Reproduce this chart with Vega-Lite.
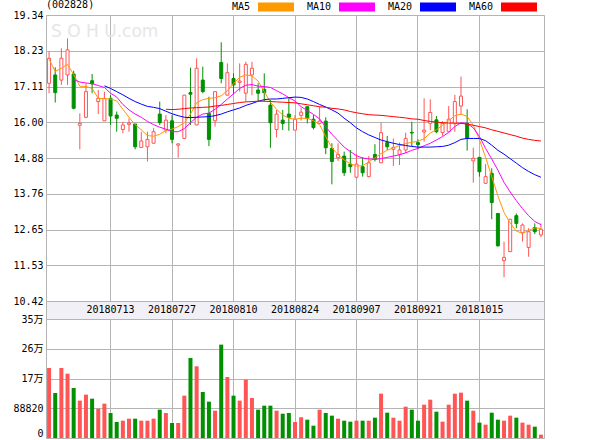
{
  "$schema": "https://vega.github.io/schema/vega-lite/v6.json",
  "background": "white",
  "padding": {"left": 12, "top": -3, "right": 0, "bottom": 0},
  "spacing": 0,
  "bounds": "flush",
  "resolve": {"scale": {"x": "shared"}},
  "datasets": {
    "k": [
      {"d":"20180629","o":17.21,"h":18.20,"l":16.90,"c":17.99,"v":209000,"MA5":17.96},
      {"d":"20180702","o":17.47,"h":17.71,"l":16.61,"c":16.92,"v":134300,"MA5":17.58},
      {"d":"20180703","o":17.31,"h":18.30,"l":17.16,"c":17.99,"v":209000,"MA5":17.68},
      {"d":"20180704","o":17.47,"h":18.61,"l":17.16,"c":18.25,"v":192000,"MA5":17.80},
      {"d":"20180705","o":17.50,"h":17.60,"l":16.40,"c":16.43,"v":149300,"MA5":17.48,"MA10":17.33},
      {"d":"20180706","o":15.90,"h":16.27,"l":15.15,"c":15.96,"v":111500,"MA5":17.12,"MA10":17.25},
      {"d":"20180709","o":16.15,"h":17.21,"l":16.12,"c":16.95,"v":129400,"MA5":17.11,"MA10":17.22},
      {"d":"20180710","o":17.29,"h":17.50,"l":16.90,"c":17.19,"v":117400,"MA5":17.05,"MA10":17.20},
      {"d":"20180711","o":16.64,"h":17.00,"l":16.25,"c":16.74,"v":87600,"MA5":16.74,"MA10":17.14},
      {"d":"20180712","o":16.04,"h":16.95,"l":16.04,"c":16.74,"v":102500,"MA5":16.73,"MA10":17.08,"MA20":17.13},
      {"d":"20180713","o":16.74,"h":16.84,"l":15.91,"c":16.19,"v":74600,"MA5":16.72,"MA10":16.90,"MA20":17.05},
      {"d":"20180716","o":16.22,"h":16.33,"l":15.70,"c":16.12,"v":47800,"MA5":16.66,"MA10":16.78,"MA20":16.95},
      {"d":"20180717","o":15.77,"h":16.01,"l":15.65,"c":15.91,"v":51700,"MA5":16.40,"MA10":16.55,"MA20":16.85},
      {"d":"20180718","o":15.93,"h":16.12,"l":15.70,"c":15.97,"v":57700,"MA5":16.15,"MA10":16.38,"MA20":16.74},
      {"d":"20180719","o":15.94,"h":15.94,"l":15.15,"c":15.23,"v":57700,"MA5":15.92,"MA10":16.25,"MA20":16.64},
      {"d":"20180720","o":15.21,"h":15.70,"l":15.21,"c":15.41,"v":51700,"MA5":15.76,"MA10":16.15,"MA20":16.56},
      {"d":"20180723","o":15.23,"h":15.70,"l":14.77,"c":15.46,"v":51700,"MA5":15.58,"MA10":16.02,"MA20":16.49},
      {"d":"20180724","o":15.34,"h":15.81,"l":15.34,"c":15.70,"v":57700,"MA5":15.56,"MA10":15.92,"MA20":16.46},
      {"d":"20180725","o":16.25,"h":16.64,"l":15.91,"c":15.98,"v":84600,"MA5":15.62,"MA10":15.84,"MA20":16.42},
      {"d":"20180726","o":15.75,"h":16.22,"l":15.65,"c":16.06,"v":74600,"MA5":15.74,"MA10":15.78,"MA20":16.34,"MA60":16.40},
      {"d":"20180727","o":16.04,"h":16.22,"l":15.34,"c":15.46,"v":44800,"MA5":15.78,"MA10":15.70,"MA20":16.26,"MA60":16.39},
      {"d":"20180730","o":15.28,"h":15.33,"l":14.89,"c":15.32,"v":44800,"MA5":15.86,"MA10":15.70,"MA20":16.20,"MA60":16.40},
      {"d":"20180731","o":15.49,"h":16.84,"l":15.49,"c":16.84,"v":126400,"MA5":15.98,"MA10":15.80,"MA20":16.15,"MA60":16.42},
      {"d":"20180801","o":16.92,"h":17.70,"l":15.91,"c":16.87,"v":238800,"MA5":16.25,"MA10":15.98,"MA20":16.14,"MA60":16.44},
      {"d":"20180802","o":15.91,"h":17.99,"l":15.91,"c":17.68,"v":214000,"MA5":16.60,"MA10":16.15,"MA20":16.15,"MA60":16.45},
      {"d":"20180803","o":17.31,"h":17.73,"l":16.90,"c":16.95,"v":137300,"MA5":16.70,"MA10":16.25,"MA20":16.16,"MA60":16.46},
      {"d":"20180806","o":16.27,"h":16.79,"l":15.25,"c":15.46,"v":108500,"MA5":16.74,"MA10":16.28,"MA20":16.17,"MA60":16.47},
      {"d":"20180807","o":16.04,"h":16.95,"l":15.86,"c":16.95,"v":81600,"MA5":16.76,"MA10":16.40,"MA20":16.20,"MA60":16.50},
      {"d":"20180808","o":17.86,"h":18.49,"l":17.21,"c":17.36,"v":278700,"MA5":16.82,"MA10":16.55,"MA20":16.25,"MA60":16.52},
      {"d":"20180809","o":16.84,"h":17.83,"l":16.84,"c":17.54,"v":182100,"MA5":16.98,"MA10":16.72,"MA20":16.32,"MA60":16.55},
      {"d":"20180810","o":17.36,"h":17.52,"l":16.87,"c":17.16,"v":126400,"MA5":17.20,"MA10":16.88,"MA20":16.38,"MA60":16.58},
      {"d":"20180813","o":17.24,"h":17.83,"l":16.95,"c":17.28,"v":111500,"MA5":17.40,"MA10":17.05,"MA20":16.44,"MA60":16.61},
      {"d":"20180814","o":16.90,"h":17.88,"l":16.64,"c":17.80,"v":174200,"MA5":17.47,"MA10":17.15,"MA20":16.52,"MA60":16.63},
      {"d":"20180815","o":17.47,"h":17.88,"l":16.84,"c":17.68,"v":119400,"MA5":17.44,"MA10":17.17,"MA20":16.58,"MA60":16.64},
      {"d":"20180816","o":17.00,"h":17.21,"l":16.64,"c":16.90,"v":84600,"MA5":17.28,"MA10":17.12,"MA20":16.65,"MA60":16.65},
      {"d":"20180817","o":17.02,"h":17.52,"l":16.64,"c":16.92,"v":96500,"MA5":16.95,"MA10":17.11,"MA20":16.70,"MA60":16.65},
      {"d":"20180820","o":16.53,"h":16.69,"l":15.20,"c":15.98,"v":96500,"MA5":16.62,"MA10":17.08,"MA20":16.72,"MA60":16.64},
      {"d":"20180821","o":15.77,"h":16.38,"l":15.52,"c":16.25,"v":81600,"MA5":16.40,"MA10":16.98,"MA20":16.72,"MA60":16.63},
      {"d":"20180822","o":16.06,"h":16.38,"l":15.75,"c":15.96,"v":72600,"MA5":16.22,"MA10":16.88,"MA20":16.74,"MA60":16.62},
      {"d":"20180823","o":16.25,"h":16.74,"l":15.73,"c":16.15,"v":74600,"MA5":16.12,"MA10":16.76,"MA20":16.76,"MA60":16.61},
      {"d":"20180824","o":15.75,"h":16.22,"l":15.75,"c":16.09,"v":47800,"MA5":16.09,"MA10":16.66,"MA20":16.78,"MA60":16.60},
      {"d":"20180827","o":16.21,"h":16.45,"l":16.05,"c":16.31,"v":61700,"MA5":16.12,"MA10":16.48,"MA20":16.77,"MA60":16.57},
      {"d":"20180828","o":16.48,"h":16.48,"l":15.96,"c":16.12,"v":54700,"MA5":16.12,"MA10":16.36,"MA20":16.72,"MA60":16.54},
      {"d":"20180829","o":16.09,"h":16.22,"l":15.77,"c":15.83,"v":36800,"MA5":16.04,"MA10":16.24,"MA20":16.64,"MA60":16.51},
      {"d":"20180830","o":15.96,"h":16.48,"l":15.96,"c":16.03,"v":84600,"MA5":15.92,"MA10":16.10,"MA20":16.55,"MA60":16.48},
      {"d":"20180831","o":16.03,"h":16.15,"l":15.00,"c":15.20,"v":74600,"MA5":15.55,"MA10":15.85,"MA20":16.47,"MA60":16.46},
      {"d":"20180903","o":15.18,"h":15.34,"l":14.06,"c":14.77,"v":66700,"MA5":15.20,"MA10":15.62,"MA20":16.38,"MA60":16.43},
      {"d":"20180904","o":14.89,"h":15.34,"l":14.79,"c":14.99,"v":57700,"MA5":14.98,"MA10":15.42,"MA20":16.28,"MA60":16.41},
      {"d":"20180905","o":14.94,"h":15.08,"l":14.32,"c":14.42,"v":51700,"MA5":14.82,"MA10":15.22,"MA20":16.12,"MA60":16.38},
      {"d":"20180906","o":14.69,"h":15.13,"l":14.42,"c":14.61,"v":48800,"MA5":14.70,"MA10":15.08,"MA20":15.98,"MA60":16.33},
      {"d":"20180907","o":14.28,"h":15.00,"l":14.25,"c":14.69,"v":51700,"MA5":14.63,"MA10":14.95,"MA20":15.82,"MA60":16.29},
      {"d":"20180910","o":14.61,"h":14.90,"l":14.30,"c":14.42,"v":51700,"MA5":14.64,"MA10":14.88,"MA20":15.70,"MA60":16.26},
      {"d":"20180911","o":14.30,"h":14.94,"l":14.28,"c":14.73,"v":51700,"MA5":14.76,"MA10":14.85,"MA20":15.60,"MA60":16.23},
      {"d":"20180912","o":14.99,"h":15.31,"l":14.77,"c":14.84,"v":60700,"MA5":14.88,"MA10":14.84,"MA20":15.52,"MA60":16.22},
      {"d":"20180913","o":14.73,"h":15.98,"l":14.73,"c":15.67,"v":132400,"MA5":15.02,"MA10":14.86,"MA20":15.44,"MA60":16.21},
      {"d":"20180914","o":15.36,"h":15.57,"l":15.13,"c":15.23,"v":75600,"MA5":15.12,"MA10":14.90,"MA20":15.39,"MA60":16.19},
      {"d":"20180917","o":15.15,"h":15.49,"l":14.63,"c":15.21,"v":60700,"MA5":15.20,"MA10":14.94,"MA20":15.34,"MA60":16.17},
      {"d":"20180918","o":14.99,"h":15.36,"l":14.66,"c":15.13,"v":51700,"MA5":15.27,"MA10":14.98,"MA20":15.30,"MA60":16.15},
      {"d":"20180919","o":15.13,"h":15.67,"l":15.03,"c":15.49,"v":93500,"MA5":15.33,"MA10":15.04,"MA20":15.27,"MA60":16.13},
      {"d":"20180920","o":15.68,"h":16.01,"l":15.25,"c":15.66,"v":84600,"MA5":15.37,"MA10":15.12,"MA20":15.24,"MA60":16.10},
      {"d":"20180921","o":15.36,"h":15.46,"l":15.15,"c":15.30,"v":51700,"MA5":15.40,"MA10":15.18,"MA20":15.22,"MA60":16.09},
      {"d":"20180925","o":15.69,"h":16.74,"l":15.39,"c":15.75,"v":99500,"MA5":15.48,"MA10":15.26,"MA20":15.22,"MA60":16.05},
      {"d":"20180926","o":15.96,"h":16.71,"l":15.75,"c":16.30,"v":114400,"MA5":15.66,"MA10":15.34,"MA20":15.22,"MA60":16.02},
      {"d":"20180927","o":16.07,"h":16.19,"l":15.65,"c":15.70,"v":78600,"MA5":15.76,"MA10":15.44,"MA20":15.23,"MA60":16.00},
      {"d":"20180928","o":15.67,"h":16.03,"l":15.57,"c":15.96,"v":48800,"MA5":15.90,"MA10":15.55,"MA20":15.24,"MA60":15.98},
      {"d":"20181008","o":15.70,"h":16.50,"l":15.70,"c":16.09,"v":99500,"MA5":16.04,"MA10":15.68,"MA20":15.28,"MA60":15.97},
      {"d":"20181009","o":15.95,"h":16.85,"l":15.70,"c":16.64,"v":132400,"MA5":16.20,"MA10":15.86,"MA20":15.36,"MA60":15.97},
      {"d":"20181010","o":16.50,"h":17.42,"l":16.22,"c":16.81,"v":135300,"MA5":16.25,"MA10":15.98,"MA20":15.46,"MA60":15.96},
      {"d":"20181011","o":15.96,"h":16.40,"l":15.11,"c":15.49,"v":111500,"MA5":16.18,"MA10":15.96,"MA20":15.49,"MA60":15.94},
      {"d":"20181012","o":14.79,"h":15.20,"l":14.11,"c":14.87,"v":81600,"MA5":15.90,"MA10":15.82,"MA20":15.49,"MA60":15.90},
      {"d":"20181015","o":14.90,"h":14.90,"l":14.30,"c":14.45,"v":45800,"MA5":15.45,"MA10":15.55,"MA20":15.49,"MA60":15.86},
      {"d":"20181016","o":14.09,"h":14.69,"l":14.09,"c":14.30,"v":39800,"MA5":14.90,"MA10":15.18,"MA20":15.42,"MA60":15.82},
      {"d":"20181017","o":14.40,"h":14.56,"l":12.97,"c":13.49,"v":75600,"MA5":14.30,"MA10":14.85,"MA20":15.28,"MA60":15.76},
      {"d":"20181018","o":13.15,"h":13.15,"l":12.12,"c":12.14,"v":54700,"MA5":13.70,"MA10":14.50,"MA20":15.12,"MA60":15.71},
      {"d":"20181019","o":11.68,"h":12.27,"l":11.16,"c":11.78,"v":51700,"MA5":13.18,"MA10":14.12,"MA20":15.00,"MA60":15.66},
      {"d":"20181022","o":11.96,"h":12.97,"l":11.96,"c":12.97,"v":66700,"MA5":12.85,"MA10":13.82,"MA20":14.86,"MA60":15.61},
      {"d":"20181023","o":13.08,"h":13.15,"l":12.69,"c":12.84,"v":60700,"MA5":12.60,"MA10":13.55,"MA20":14.72,"MA60":15.56},
      {"d":"20181024","o":12.55,"h":12.84,"l":12.27,"c":12.79,"v":45800,"MA5":12.53,"MA10":13.30,"MA20":14.58,"MA60":15.50},
      {"d":"20181025","o":12.09,"h":12.69,"l":11.80,"c":12.58,"v":39800,"MA5":12.62,"MA10":13.08,"MA20":14.46,"MA60":15.46},
      {"d":"20181026","o":12.71,"h":12.84,"l":12.51,"c":12.58,"v":33800,"MA5":12.70,"MA10":12.90,"MA20":14.36,"MA60":15.43},
      {"d":"20181029","o":12.48,"h":12.84,"l":12.41,"c":12.66,"v":10000,"MA5":12.68,"MA10":12.80,"MA20":14.28,"MA60":15.41}
    ]
  },
  "vconcat": [
    {
      "width": 498,
      "height": 286,
      "data": {"name": "k"},
      "encoding": {
        "x": {
          "field": "d", "type": "ordinal",
          "scale": {"type": "band", "paddingInner": 0, "paddingOuter": 0},
          "axis": {"values": ["20180713","20180727","20180810","20180824","20180907","20180921","20181015"], "grid": true, "labels": false, "ticks": false, "domain": false, "title": null, "bandPosition": 0.5}
        }
      },
      "layer": [
        {
          "data": {"values": [{"w": "S O H U.com"}]},
          "mark": {"type": "text", "align": "left", "baseline": "middle", "font": "DejaVu Sans", "fontSize": 17, "color": "#e6e6e6", "dx": 2},
          "encoding": {
            "x": {"datum": "20180629", "type": "ordinal"},
            "y": {"datum": 18.82, "type": "quantitative", "scale": {"domain": [10.42, 19.34], "nice": false, "zero": false}},
            "text": {"field": "w"}
          }
        },
        {
          "mark": {"type": "rule", "strokeWidth": 1},
          "encoding": {
            "y": {
              "field": "l", "type": "quantitative", "title": null,
              "scale": {"domain": [10.42, 19.34], "nice": false, "zero": false},
              "axis": {"values": [10.42, 11.53, 12.65, 13.76, 14.88, 16.00, 17.11, 18.23, 19.34], "tickCount": 20, "format": ".2f", "grid": true, "ticks": false, "domain": false, "title": null, "labelPadding": 3, "labelOverlap": false}
            },
            "y2": {"field": "h"},
            "color": {"condition": {"test": "datum.c >= datum.o", "value": "#ff5555"}, "value": "#009000"}
          }
        },
        {
          "mark": {"type": "bar", "size": 3, "strokeWidth": 1},
          "encoding": {
            "y": {"field": "o", "type": "quantitative", "title": null, "scale": {"domain": [10.42, 19.34], "nice": false, "zero": false}},
            "y2": {"field": "c"},
            "fill": {"condition": {"test": "datum.c >= datum.o", "value": "#ffffff"}, "value": "#009000"},
            "stroke": {"condition": {"test": "datum.c >= datum.o", "value": "#ff5555"}, "value": "#009000"}
          }
        },
        {
          "transform": [
            {"fold": ["MA5", "MA10", "MA20", "MA60"], "as": ["s", "m"]},
            {"filter": "isValid(datum.m)"}
          ],
          "mark": {"type": "line", "strokeWidth": 1},
          "encoding": {
            "y": {"field": "m", "type": "quantitative", "title": null, "scale": {"domain": [10.42, 19.34], "nice": false, "zero": false}},
            "color": {
              "field": "s", "type": "nominal",
              "scale": {"domain": ["MA5", "MA10", "MA20", "MA60"], "range": ["#ff9900", "#ff00ff", "#0000ff", "#ff0000"]},
              "legend": {
                "orient": "none", "legendX": 0, "legendY": -18, "direction": "horizontal",
                "title": "(002828)", "titleOrient": "left", "titlePadding": 171, "titleAnchor": "middle", "titleBaseline": "middle",
                "titleFont": "DejaVu Sans Mono", "titleFontSize": 10, "titleFontWeight": "normal", "titleColor": "#000",
                "padding": 0, "columnPadding": 12,
                "symbolType": "M-1.8,-0.45L1.8,-0.45L1.8,0.45L-1.8,0.45Z", "symbolSize": 400, "symbolStrokeWidth": 0,
                "labelAlign": "right", "labelOffset": -36,
                "labelFont": "DejaVu Sans Mono", "labelFontSize": 10, "labelColor": "#000",
                "encode": {"symbols": {"update": {"fill": {"scale": "color", "field": "value"}, "fillOpacity": {"value": 1}}}}
              }
            }
          }
        }
      ]
    },
    {
      "width": 498,
      "height": 18,
      "view": {"fill": "#f0f0f6", "stroke": "#b4b4b4"},
      "data": {"name": "k"},
      "transform": [{"filter": {"field": "d", "oneOf": ["20180713","20180727","20180810","20180824","20180907","20180921","20181015"]}}],
      "mark": {"type": "text", "font": "DejaVu Sans Mono", "fontSize": 10, "color": "#000", "baseline": "middle"},
      "encoding": {
        "x": {"field": "d", "type": "ordinal", "scale": {"type": "band", "paddingInner": 0, "paddingOuter": 0}, "axis": null},
        "text": {"field": "d"}
      }
    },
    {
      "width": 498,
      "height": 119,
      "data": {"name": "k"},
      "mark": {"type": "bar", "size": 4},
      "encoding": {
        "x": {
          "field": "d", "type": "ordinal",
          "scale": {"type": "band", "paddingInner": 0, "paddingOuter": 0},
          "axis": {"values": ["20180713","20180727","20180810","20180824","20180907","20180921","20181015"], "grid": true, "labels": false, "ticks": false, "domain": false, "title": null, "bandPosition": 0.5}
        },
        "y": {
          "field": "v", "type": "quantitative", "title": null,
          "scale": {"domain": [0, 355280], "nice": false},
          "axis": {
            "values": [0, 88820, 177640, 266460, 355280],
            "tickCount": 20,
            "labelExpr": "datum.value == 0 ? '0' : datum.value == 88820 ? '88820' : floor(datum.value / 10000) + '万'",
            "labelBaseline": {"condition": {"test": "datum.value == 0", "value": "bottom"}, "value": "middle"},
            "grid": true, "ticks": false, "domain": false, "title": null, "labelPadding": 3, "labelOverlap": false
          }
        },
        "color": {"condition": {"test": "datum.c >= datum.o", "value": "#ff5555"}, "value": "#009000"}
      }
    }
  ],
  "config": {
    "view": {"stroke": "#b4b4b4", "strokeWidth": 1},
    "axis": {"gridColor": "#b4b4b4", "gridWidth": 1, "gridOpacity": 1, "labelFont": "DejaVu Sans Mono, Noto Sans CJK SC", "labelFontSize": 10, "labelColor": "#000"}
  }
}
